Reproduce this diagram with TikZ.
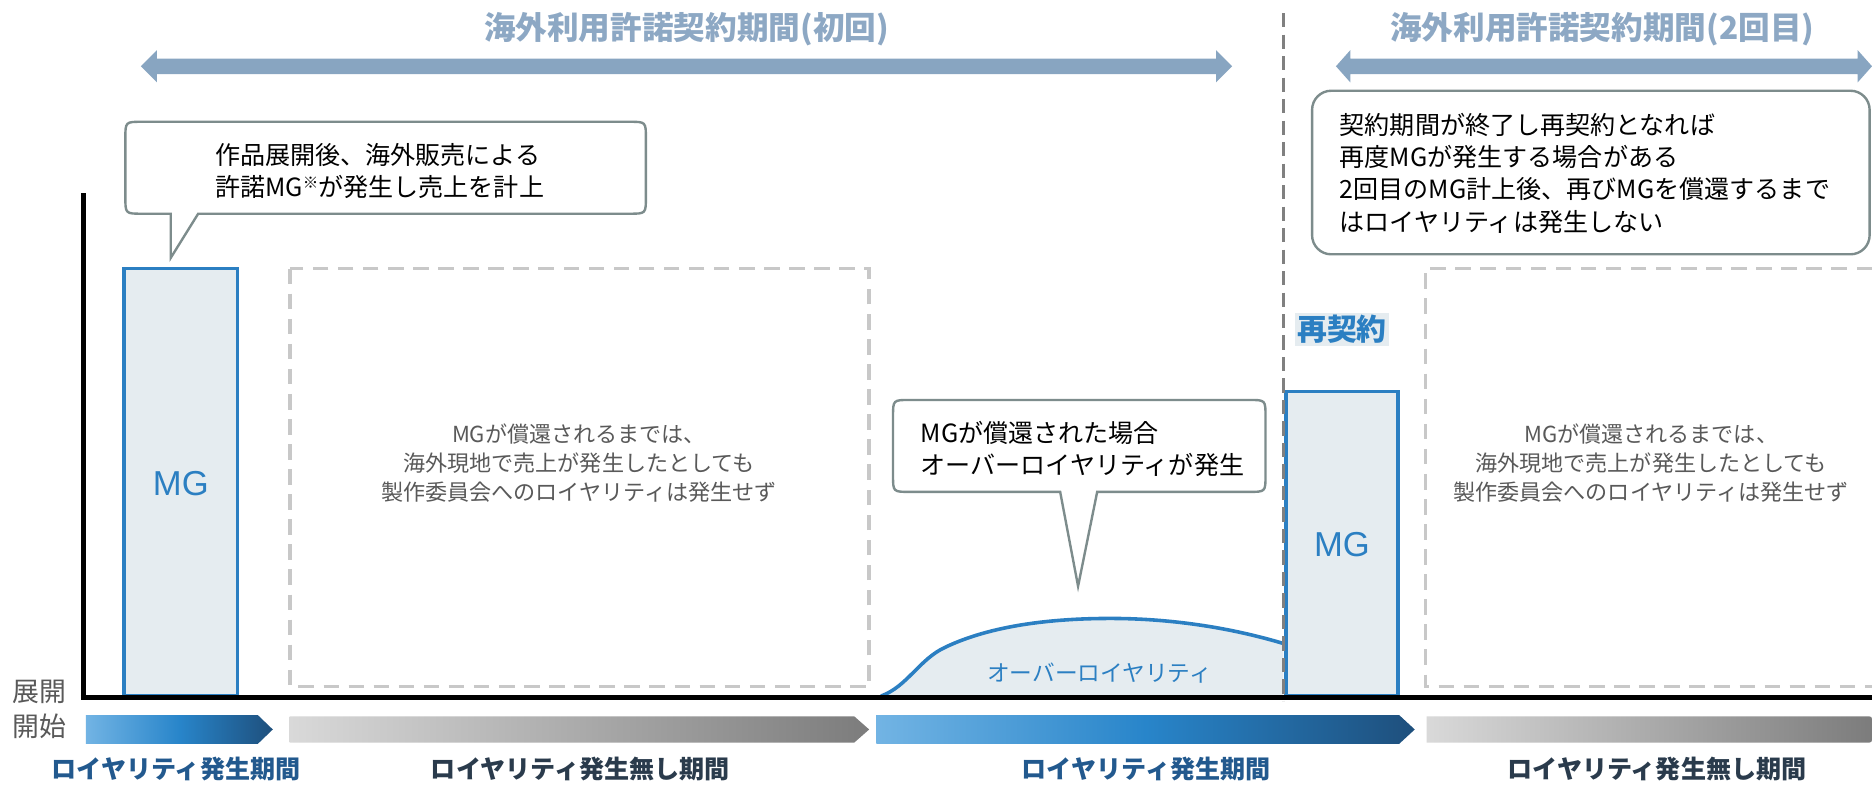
\documentclass[tikz,border=0pt]{standalone}
\usepackage{fontspec}
\setmainfont{Noto Sans CJK JP}
\newfontfamily\arialfont{Liberation Sans}
\definecolor{arrowc}{RGB}{136,165,193}
\definecolor{ttlc}{RGB}{141,168,196}
\definecolor{mgblue}{RGB}{43,127,194}
\definecolor{lightfill}{RGB}{229,236,240}
\definecolor{callc}{RGB}{125,140,140}
\definecolor{dashc}{RGB}{200,200,200}
\definecolor{vdashc}{RGB}{128,128,128}
\definecolor{txtgray}{RGB}{89,89,89}
\definecolor{lblblue}{RGB}{34,89,142}
\definecolor{lbldark}{RGB}{42,59,76}
\definecolor{bl1}{RGB}{114,180,228}
\definecolor{bl2}{RGB}{40,133,202}
\definecolor{bl3}{RGB}{30,79,124}
\definecolor{gr1}{RGB}{217,217,217}
\definecolor{gr2}{RGB}{124,124,124}
\begin{document}
\begin{tikzpicture}[x=1pt,y=-1pt,
  ttl/.style={font=\bfseries\fontsize{26.5}{26.5}\selectfont, text=ttlc, inner sep=0pt},
  ctext/.style={font=\fontsize{21}{26.5}\selectfont, align=left, inner sep=0pt, text=black},
  dtext/.style={font=\fontsize{18.5}{24}\selectfont, align=center, inner sep=0pt, text=txtgray},
  mgtext/.style={font=\arialfont\fontsize{29}{29}\selectfont, text=mgblue, inner sep=0pt},
  lblb/.style={font=\bfseries\fontsize{21}{21}\selectfont, text=lblblue, inner sep=0pt},
  lbld/.style={font=\bfseries\fontsize{21}{21}\selectfont, text=lbldark, inner sep=0pt},
  callout/.style={draw=callc, line width=2pt, fill=white},
  mgbox/.style={draw=mgblue, line width=3pt, fill=lightfill},
  dbox/.style={draw=dashc, line width=3pt, dash pattern=on 13pt off 8pt},
  bigarrow/.style={fill=arrowc}
]
\useasboundingbox (0,0) rectangle (1568,657);
\fill[white] (0,0) rectangle (1568,657);

% titles
\node[ttl] (t1) at (575,24) {海外利用許諾契約期間(初回)};
\node[ttl] (t2) at (1342,24) {海外利用許諾契約期間(2回目)};

% top double arrows
\fill[bigarrow] (118,55.5) -- (131.5,42) -- (131.5,49) -- (1018.6,49) -- (1018.6,42) -- (1032,55.5) -- (1018.6,69) -- (1018.6,62) -- (131.5,62) -- (131.5,69) -- cycle;
\fill[bigarrow] (1119,55.5) -- (1131,42) -- (1131,49) -- (1556,49) -- (1556,42) -- (1568,55.5) -- (1556,69) -- (1556,62) -- (1131,62) -- (1131,69) -- cycle;

% dashed gray boxes
\draw[dbox] (243,225) rectangle (728,575);
\draw[dbox] (1568,225) -- (1194,225) -- (1194,575) -- (1568,575);
\node[dtext] (d1) at (485,388) {MGが償還されるまでは、\\海外現地で売上が発生したとしても\\製作委員会へのロイヤリティは発生せず};
\node[dtext] (d2) at (1383,388) {MGが償還されるまでは、\\海外現地で売上が発生したとしても\\製作委員会へのロイヤリティは発生せず};

% MG boxes
\draw[mgbox] (104,583) rectangle (199,225);
\node[mgtext] (mg1) at (151.5,405) {MG};
\draw[mgbox] (1077,583) rectangle (1171,328);
\node[mgtext] (mg2) at (1124,456) {MG};

% over royalty area
\fill[lightfill] (738,583) .. controls (760,575) and (770,552) .. (792,542) .. controls (830,524) and (880,518) .. (930,518) .. controls (985,518) and (1035,527) .. (1075,539) -- (1075,583) -- cycle;
\draw[mgblue, line width=3pt] (738,583) .. controls (760,575) and (770,552) .. (792,542) .. controls (830,524) and (880,518) .. (930,518) .. controls (985,518) and (1035,527) .. (1075,539);
\node[font=\fontsize{19}{19}\selectfont, text=mgblue, inner sep=0pt] (ort) at (921,564) {オーバーロイヤリティ};

% re-contract label
\node[font=\bfseries\fontsize{25}{25}\selectfont, text=mgblue, fill=lightfill, inner sep=2pt] (rk) at (1124,276) {再契約};

% callout 1
\draw[callout] (143,216) -- (166,179) -- (527,179) .. controls (541,179) .. (541,165) -- (541,116) .. controls (541,102) .. (527,102) -- (119,102) .. controls (105,102) .. (105,116) -- (105,165) .. controls (105,179) .. (119,179) -- (143,179) -- cycle;
\node[ctext, anchor=west] (c1) at (180,143) {作品展開後、海外販売による\\許諾MG\raisebox{0.3em}{\fontsize{13}{13}\selectfont ※}が発生し売上を計上};

% callout 2
\draw[callout] (888,412) -- (903,491) -- (919,412) -- (1046,412) .. controls (1060,412) .. (1060,398) -- (1060,349) .. controls (1060,335) .. (1046,335) -- (762,335) .. controls (748,335) .. (748,349) -- (748,398) .. controls (748,412) .. (762,412) -- cycle;
\node[ctext, anchor=west] (c2) at (771,376) {MGが償還された場合\\オーバーロイヤリティが発生};

% callout 3
\draw[callout, rounded corners=16pt] (1099,76) rectangle (1566,213);
\node[ctext, font=\fontsize{21}{27}\selectfont, anchor=west] (c3) at (1122,145) {契約期間が終了し再契約となれば\\再度MGが発生する場合がある\\2回目のMG計上後、再びMGを償還するまで\\はロイヤリティは発生しない};

% axes
\coordinate (ytop) at (70,162);
\coordinate (orig) at (70,584);
\coordinate (xend) at (1568,584);
\draw[black, line width=4.5pt] (ytop) -- (orig);
\draw[black, line width=4.5pt] ([xshift=-2.25pt]orig) -- (xend);

% vertical dashed divider
\draw[vdashc, line width=3pt, dash pattern=on 12pt off 6pt] (1075,11) -- (1075,587);

% axis start label
\node[font=\fontsize{22.5}{29.6}\selectfont, text=txtgray, align=center, inner sep=0pt] (start) at (33,594) {展開\\開始};

% bottom period chevrons
\shade[left color=bl1, right color=bl3, middle color=bl2] (72,599) -- (216,599) -- (228.5,611) -- (216,623) -- (72,623) -- cycle;
\shade[left color=gr1, right color=gr2] (242.5,600) -- (715.5,600) -- (728,611) -- (715.5,622) -- (242.5,622) -- cycle;
\shade[left color=bl1, right color=bl3, middle color=bl2] (734,599) -- (1172,599) -- (1185,611) -- (1172,623) -- (734,623) -- cycle;
\shade[left color=gr1, right color=gr2] (1195,600) -- (1563,600) .. controls (1568,600) .. (1568,605) -- (1568,617) .. controls (1568,622) .. (1563,622) -- (1195,622) -- cycle;

% period labels
\node[lblb] (l1) at (147.5,644) {ロイヤリティ発生期間};
\node[lbld] (l2) at (486,644) {ロイヤリティ発生無し期間};
\node[lblb] (l3) at (960,644) {ロイヤリティ発生期間};
\node[lbld] (l4) at (1388,644) {ロイヤリティ発生無し期間};
\end{tikzpicture}
\end{document}
